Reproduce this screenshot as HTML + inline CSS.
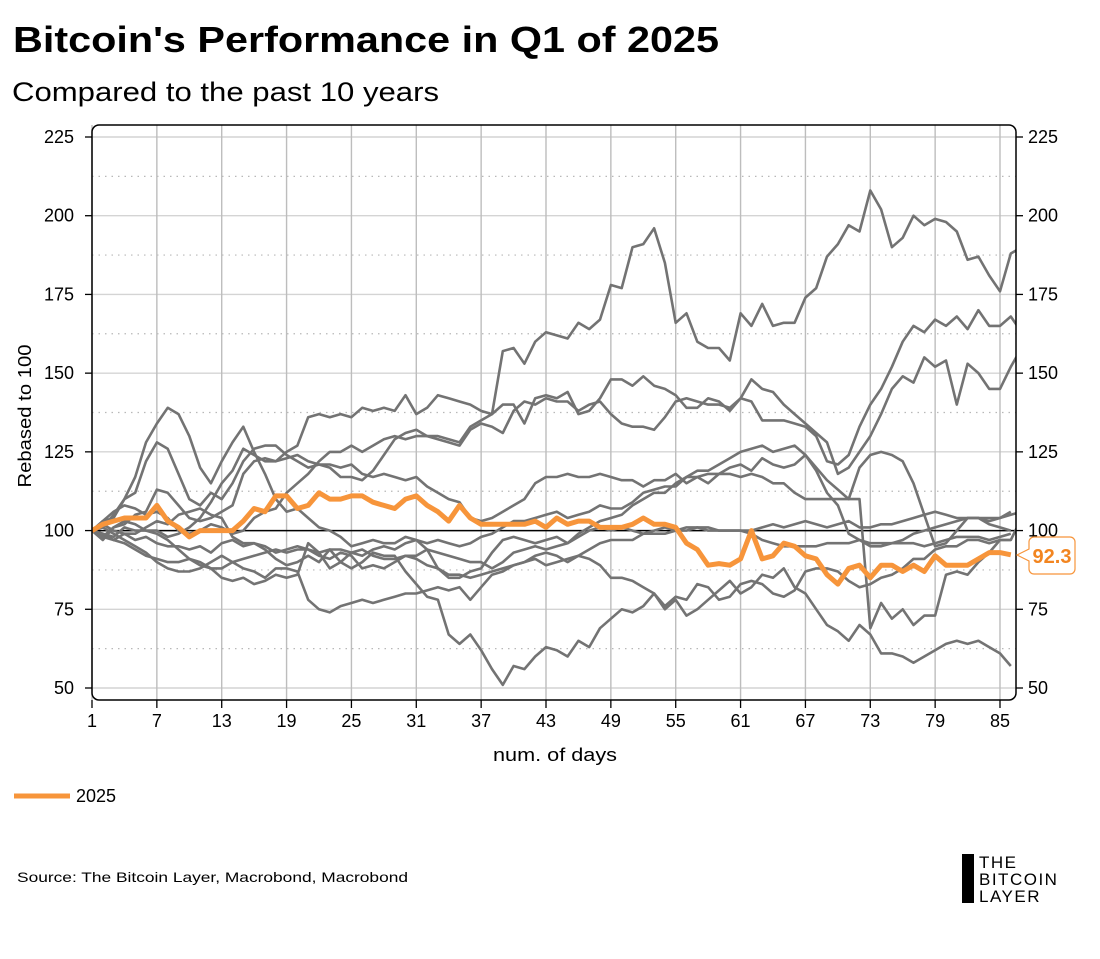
<!DOCTYPE html>
<html><head><meta charset="utf-8"><style>
body{margin:0;background:#fff;width:1100px;height:954px;overflow:hidden;font-family:"Liberation Sans",sans-serif}
svg text{font-family:"Liberation Sans",sans-serif}
</style></head><body>
<svg id="chart" width="1100" height="954" xmlns="http://www.w3.org/2000/svg">
<text x="13" y="52" font-size="36" font-weight="bold" fill="#000" textLength="706" lengthAdjust="spacingAndGlyphs">Bitcoin's Performance in Q1 of 2025</text>
<text x="12" y="101" font-size="27" fill="#000" textLength="427" lengthAdjust="spacingAndGlyphs">Compared to the past 10 years</text>
<defs><clipPath id="pc"><rect x="92" y="125" width="924" height="575"/></clipPath></defs>
<g id="grid"></g>
<g id="series" clip-path="url(#pc)"></g>
<rect x="92" y="125" width="924" height="575" rx="7" fill="none" stroke="#000" stroke-width="1.5"/>
<g id="axes"></g>
<text transform="translate(31,416) rotate(-90)" text-anchor="middle" font-size="18" fill="#000" textLength="143" lengthAdjust="spacingAndGlyphs">Rebased to 100</text>
<text x="555" y="761" text-anchor="middle" font-size="18" fill="#000" textLength="124" lengthAdjust="spacingAndGlyphs">num. of days</text>
<g>
<path d="M1034,537 H1070 a5,5 0 0 1 5,5 V569 a5,5 0 0 1 -5,5 H1034 a5,5 0 0 1 -5,-5 V561 L1017,555 L1029,549 V542 a5,5 0 0 1 5,-5 Z" fill="#fff" stroke="#f7953b" stroke-width="1.2"/>
<text x="1052" y="563" text-anchor="middle" font-size="20" font-weight="bold" fill="#f28520">92.3</text>
</g>
<g>
<line x1="14" y1="796" x2="70" y2="796" stroke="#f7953b" stroke-width="5"/>
<text x="76" y="802" font-size="18" fill="#000">2025</text>
</g>
<text x="17" y="882" font-size="14" fill="#000" textLength="391" lengthAdjust="spacingAndGlyphs">Source: The Bitcoin Layer, Macrobond, Macrobond</text>
<g>
<rect x="962" y="854" width="12" height="49" fill="#000"/>
<text x="979" y="868" font-size="17" letter-spacing="1.5" fill="#000">THE</text>
<text x="979" y="885" font-size="17" letter-spacing="1.5" fill="#000">BITCOIN</text>
<text x="979" y="902" font-size="17" letter-spacing="1.5" fill="#000">LAYER</text>
</g>
</svg>
<script>
const xTicks=[1,7,13,19,25,31,37,43,49,55,61,67,73,79,85];
const yTicks=[50,75,100,125,150,175,200,225];
const yMinor=[62.5,87.5,112.5,137.5,162.5,187.5,212.5];
const s2025=[100,102,103,104,104,104,108,103,101,98,100,100,100,100,103,107,106,111,111,107,108,112,110,110,111,111,109,108,107,110,111,108,106,103,108,104,102,102,102,102,102,103,101,104,102,103,103,101,101,101,102,104,102,102,101,96,94,89,89.5,89,91,100,91,92,96,95,92,91,86,83,88,89,85,89,89,87,89,87,92,89,89,89,91,93,93,92.3];
const sA=[100,103,104,110,112,122,128,126,118,110,108,112,110,115,122,126,127,127,124,122,120,121,120,117,117,116,119,124,129,131,132,130,130,129,128,133,135,137,157,158,153,160,163,162,161,166,164,167,178,177,190,191,196,185,166,169,160,158,158,154,169,165,172,165,166,166,174,177,187,191,197,195,208,202,190,193,200,197,199,198,195,186,187,181,176,188,190];
const sB=[100,98,101,102,105,106,113,112,108,104,103,104,106,108,118,122,123,122,125,127,136,137,136,137,136,139,138,139,138,143,137,139,143,142,141,140,138,137,140,140,134,142,143,142,144,137,138,142,148,148,146,149,146,145,143,139,139,142,141,138,142,141,135,135,135,134,133,130,122,121,124,133,140,145,152,160,165,163,167,165,168,164,170,165,165,168,163];
const sC=[100,103,106,108,107,105,106,104,100,99,100,102,101,99,100,104,106,107,112,115,118,122,125,125,127,125,127,129,130,129,130,130,129,128,127,132,134,133,131,138,141,140,142,141,141,138,140,141,137,134,133,133,132,136,141,142,141,140,140,139,142,148,145,144,140,137,134,131,128,118,120,125,130,137,145,149,147,155,152,154,140,153,150,145,145,152,158];
const sD=[100,97,101,103,102,100,100,98,99,101,104,109,115,119,126,124,122,122,123,124,122,121,121,120,121,118,117,118,117,116,117,114,112,110,109,104,103,104,106,108,110,115,117,117,118,117,117,118,117,116,116,114,116,116,118,115,117,118,118,120,121,119,123,121,120,121,124,119,112,108,99,97,96,96,96,97,99,100,101,102,103,104,104,104,104,105,106];
const sE=[100,101,105,110,117,128,134,139,137,130,120,115,122,128,133,125,118,110,106,107,104,101,100,98,95,96,97,96,96,98,97,96,97,96,95,96,98,99,101,103,103,104,105,106,104,105,106,108,107,107,109,112,113,114,114,117,119,119,121,123,125,126,127,125,126,127,124,120,116,113,110,120,124,125,124,122,115,105,95,96,100,104,104,102,101,100];
const sF=[100,98,97,99,97,98,96,95,95,94,95,93,96,97,95,96,94,91,89,90,92,90,94,90,88,90,93,92,92,87,83,79,78,67,64,67,62,56,51,57,56,60,63,62,60,65,63,69,72,75,74,76,80,75,78,73,75,78,81,84,80,82,86,85,88,82,80,75,70,68,65,70,67,61,61,60,58,60,62,64,65,64,65,63,61,57];
const sG=[100,99,97,96,94,92,91,90,90,91,90,88,85,84,85,83,84,86,85,86,96,93,88,90,93,92,94,95,94,96,97,94,88,85,85,87,88,93,97,98,97,96,97,98,96,99,101,103,104,105,108,110,112,112,115,117,117,115,118,118,117,118,117,115,115,112,110,110,110,110,110,110,69,77,72,75,70,73,73,86,87,86,90,93,97,97,104];
const sH=[100,102,100,99,99,101,103,102,105,106,107,105,104,98,96,96,95,93,94,95,94,92,91,93,92,88,89,88,90,92,91,89,88,86,86,85,86,87,88,89,90,92,93,92,90,92,91,89,85,85,84,82,80,76,79,78,83,82,78,79,83,84,83,80,79,81,87,88,88,87,84,82,83,85,86,88,91,91,94,95,95,97,97,96,97,97];
const sI=[100,101,99,97,95,93,90,88,87,87,88,90,92,90,88,87,85,88,88,87,78,75,74,76,77,78,77,78,79,80,80,81,82,81,82,78,82,86,87,89,90,91,89,90,91,92,94,96,97,97,97,99,100,101,100,100,101,100,100,100,100,99,97,96,95,95,95,95,96,96,96,97,95,95,96,96,96,95,96,97,98,98,98,97,98,99];
const sJ=[100,99,98,101,100,100,99,97,94,91,89,88,88,90,91,92,93,94,93,94,94,93,94,94,93,94,92,91,91,92,92,94,93,92,91,90,90,88,90,93,94,95,94,95,96,98,100,101,100,101,100,99,99,99,100,101,101,101,100,100,100,100,101,102,101,102,103,102,101,102,103,101,101,102,102,103,104,105,106,105,104,104,104,103,104,106];
const greySeries=[sA,sB,sC,sD,sE,sF,sG,sH,sI,sJ];

const NS='http://www.w3.org/2000/svg';
const X=d=>92+(d-1)*(1000-92)/84;
const Y=v=>688-(v-50)*(688-137)/175;
function mk(tag,parent,attrs){const e=document.createElementNS(NS,tag);for(const k in attrs)e.setAttribute(k,attrs[k]);parent.appendChild(e);return e;}
const grid=document.getElementById('grid'),axes=document.getElementById('axes'),ser=document.getElementById('series');
yMinor.forEach(v=>{const l=mk('line',grid,{x1:92,x2:1016,y1:Y(v),y2:Y(v),stroke:'#b8b8b8','stroke-width':1.2,'stroke-dasharray':'1.5,5'});

});
yTicks.forEach(v=>{const l=mk('line',grid,{x1:92,x2:1016,y1:Y(v),y2:Y(v),stroke:'#d4d4d4','stroke-width':1.4});


const t1=mk('line',axes,{x1:85,x2:92,y1:Y(v),y2:Y(v),stroke:'#000','stroke-width':1.3});


const t2=mk('line',axes,{x1:1016,x2:1023,y1:Y(v),y2:Y(v),stroke:'#000','stroke-width':1.3});


const a=mk('text',axes,{x:74,y:Y(v)+6,'text-anchor':'end','font-size':18,fill:'#000'});a.textContent=v;


const b=mk('text',axes,{x:1028,y:Y(v)+6,'font-size':18,fill:'#000'});b.textContent=v;

});
xTicks.forEach(d=>{const l=mk('line',grid,{x1:X(d),x2:X(d),y1:125,y2:700,stroke:'#bdbdbd','stroke-width':1.4});


const t=mk('line',axes,{x1:X(d),x2:X(d),y1:700,y2:708,stroke:'#000','stroke-width':1.3});


const a=mk('text',axes,{x:X(d),y:727,'text-anchor':'middle','font-size':18,fill:'#000'});a.textContent=d;

});
const base=mk('line',ser,{x1:92,x2:1016,y1:Y(100),y2:Y(100),stroke:'#000','stroke-width':1.5});


function pts(a){return a.map((v,i)=>X(i+1).toFixed(1)+','+Y(v).toFixed(1)).join(' ');}
greySeries.forEach(s=>{const p=mk('polyline',ser,{points:pts(s),fill:'none',stroke:'#737373','stroke-width':2.6,'stroke-linejoin':'round'});

});
const o=mk('polyline',ser,{points:pts(s2025),fill:'none',stroke:'#f7953b','stroke-width':5,'stroke-linejoin':'round'});


</script>
</body></html>
